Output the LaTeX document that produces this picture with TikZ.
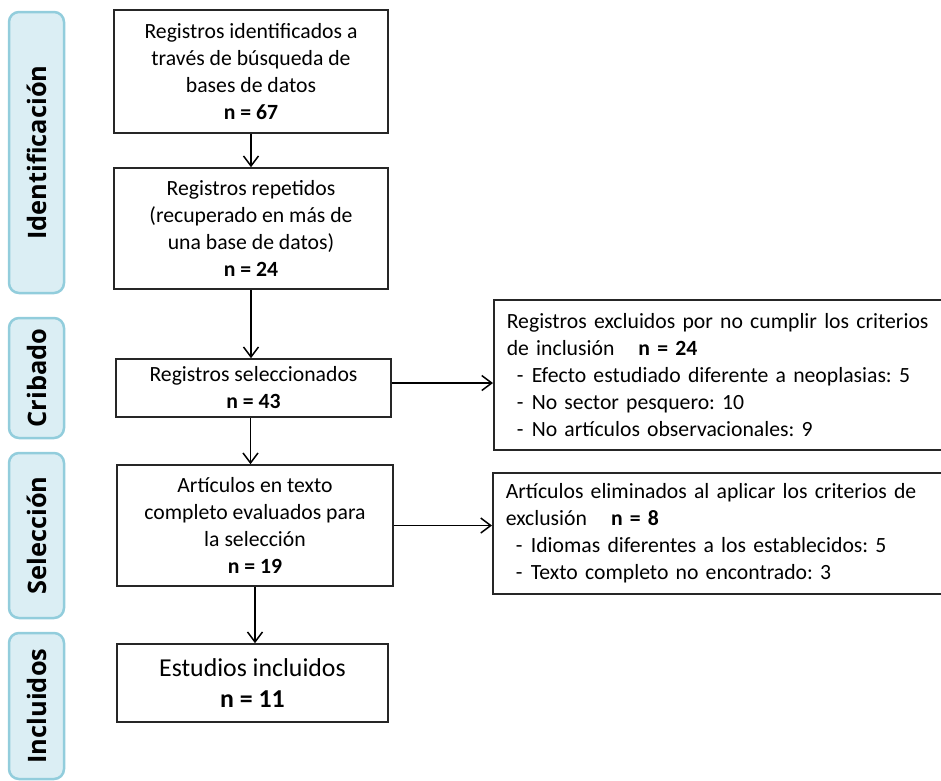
\documentclass[tikz,border=0pt]{standalone}
\usepackage{fontspec}
\setmainfont{Carlito}
\newfontfamily\labelfont{Open Sans}
\usetikzlibrary{arrows.meta}
\definecolor{lblfill}{RGB}{219,238,244}
\definecolor{lbldraw}{RGB}{146,205,220}
\newcommand{\bul}{\makebox[25pt][l]{\hspace{10pt}-}}
\frenchspacing
\begin{document}
\begin{tikzpicture}[x=1pt,y=-1pt,
  box/.style={draw=black!85, line width=1.6pt, inner sep=0pt, align=center,
    font=\frenchspacing\fontsize{21.7}{27}\selectfont},
  sidebox/.style={draw=black!85, line width=1.6pt, inner xsep=13pt, inner ysep=0pt,
    align=left, text width=470pt, anchor=west,
    font=\frenchspacing\fontsize{21.7}{27}\selectfont},
  phase/.style={draw=lbldraw, fill=lblfill, line width=2.5pt, rounded corners=10pt,
    inner sep=0pt, minimum width=55pt, font=\labelfont\bfseries\fontsize{25.4}{28}\selectfont},
  arr/.style={line width=1.5pt, -{Straight Barb[length=10pt,width=15pt,line width=1.5pt]}}
]
\useasboundingbox (0,0) rectangle (941,780);

% phase labels
\node[phase, minimum height=281pt] (p1) at (36.5,152.5) {\rotatebox{90}{Identificación}};
\node[phase, minimum height=120pt] (p2) at (36.5,378) {\rotatebox{90}{Cribado}};
\node[phase, minimum height=165pt] (p3) at (36.5,535.5) {\rotatebox{90}{Selección}};
\node[phase, minimum height=146pt] (p4) at (36.5,706) {\rotatebox{90}{Incluidos}};

% main boxes
\node[box, minimum width=274pt, minimum height=123pt] (b1) at (251,71.5)
  {Registros identificados a\\ través de búsqueda de\\ bases de datos\\ \textbf{n = 67}};
\node[box, minimum width=274pt, minimum height=121pt] (b2) at (251,228.5)
  {Registros repetidos\\ (recuperado en más de\\ una base de datos)\\ \textbf{n = 24}};
\node[box, minimum width=275pt, minimum height=58pt] (b3) at (253.5,388)
  {Registros seleccionados\\ \textbf{n = 43}};
\node[box, minimum width=276pt, minimum height=121pt] (b4) at (255,525.5)
  {Artículos en texto\\ completo evaluados para\\ la selección\\ \textbf{n = 19}};
\node[box, minimum width=271pt, minimum height=78pt,
  font=\frenchspacing\fontsize{25.8}{31}\selectfont] (b5) at (252.5,683)
  {Estudios incluidos\\ \textbf{n = 11}};

% side boxes
\node[sidebox, minimum height=150pt] (r1) at (493,375)
  {Registros excluidos por no cumplir los criterios\\
   de inclusión\hspace{24pt}\textbf{n = 24}\\
   \bul Efecto estudiado diferente a neoplasias: 5\\
   \bul No sector pesquero: 10\\
   \bul No artículos observacionales: 9};
\node[sidebox, minimum height=121pt] (r2) at (492,533.5)
  {Artículos eliminados al aplicar los criterios de\\
   exclusión\hspace{24pt}\textbf{n = 8}\\
   \bul Idiomas diferentes a los establecidos: 5\\
   \bul Texto completo no encontrado: 3};

% connectors
\draw[arr] (b1.south) -- (b2.north);
\draw[arr] (b2.south) -- (b2.south |- b3.north);
\draw[arr] ([xshift=-3pt]b3.south) -- ([xshift=-3pt]b3.south |- b4.north);
\draw[arr] (b4.south) -- (b4.south |- b5.north);
\draw[arr] ([yshift=5pt]b3.east) -- ([yshift=5pt]b3.east -| r1.west);
\draw[arr] (b4.east) -- (b4.east -| r2.west);
\end{tikzpicture}
\end{document}
